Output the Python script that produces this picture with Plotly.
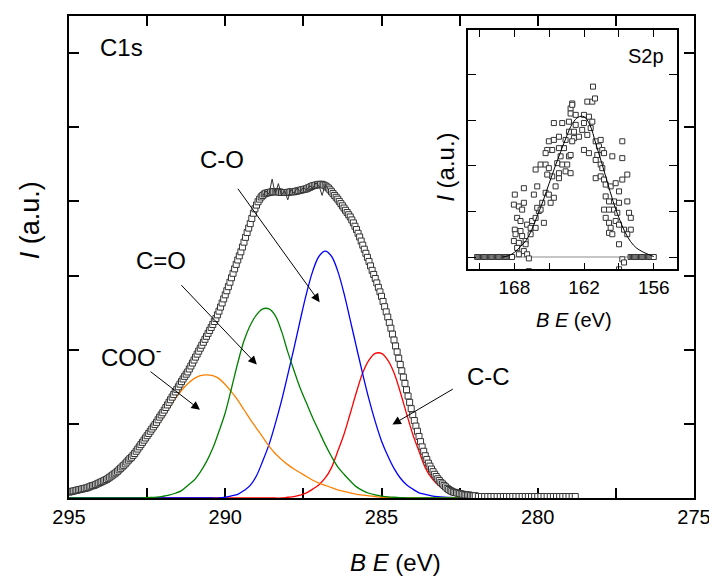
import numpy as np
import plotly.graph_objects as go

# ---------------- C1s main spectrum ----------------
# measured C1s points: 295.00 ... 282.00 eV every 0.05 eV, then 281.9 ... 278.8 eV every 0.1 eV
c1s_ev = list(np.round(np.arange(29500, 28199, -5) / 100.0, 2)) + \
         list(np.round(np.arange(2819, 2787, -1) / 10.0, 1))
c1s_I = [
    0.08, 0.085, 0.09, 0.095, 0.10, 0.105, 0.11, 0.115, 0.12, 0.125,
    0.13, 0.135, 0.14, 0.15, 0.16, 0.165, 0.17, 0.18, 0.19, 0.20,
    0.21, 0.22, 0.23, 0.24, 0.25, 0.265, 0.28, 0.295, 0.31, 0.325,
    0.34, 0.36, 0.38, 0.40, 0.42, 0.44, 0.46, 0.485, 0.51, 0.53,
    0.55, 0.575, 0.60, 0.63, 0.66, 0.69, 0.72, 0.75, 0.78, 0.81,
    0.84, 0.87, 0.90, 0.93, 0.96, 0.99, 1.02, 1.055, 1.09, 1.12,
    1.15, 1.185, 1.22, 1.255, 1.29, 1.325, 1.36, 1.395, 1.43, 1.465,
    1.50, 1.535, 1.57, 1.605, 1.64, 1.67, 1.70, 1.74, 1.78, 1.82,
    1.86, 1.90, 1.94, 1.98, 2.02, 2.06, 2.10, 2.14, 2.18, 2.22,
    2.26, 2.30, 2.34, 2.38, 2.42, 2.47, 2.52, 2.575, 2.63, 2.685,
    2.74, 2.795, 2.85, 2.91, 2.97, 3.03, 3.09, 3.15, 3.21, 3.265,
    3.32, 3.385, 3.45, 3.515, 3.58, 3.64, 3.70, 3.77, 3.84, 3.90,
    3.95, 3.995, 4.03, 4.06, 4.08, 4.10, 4.11, 4.115, 4.12, 4.125,
    4.13, 4.13, 4.13, 4.13, 4.13, 4.125, 4.12, 4.12, 4.12, 4.12,
    4.12, 4.125, 4.13, 4.13, 4.13, 4.135, 4.14, 4.145, 4.15, 4.155,
    4.16, 4.165, 4.17, 4.18, 4.19, 4.20, 4.21, 4.215, 4.22, 4.225,
    4.23, 4.23, 4.23, 4.22, 4.21, 4.195, 4.18, 4.155, 4.13, 4.105,
    4.08, 4.055, 4.03, 4.00, 3.97, 3.94, 3.91, 3.88, 3.85, 3.82,
    3.79, 3.75, 3.71, 3.665, 3.62, 3.57, 3.52, 3.465, 3.41, 3.355,
    3.30, 3.245, 3.19, 3.13, 3.07, 3.015, 2.96, 2.90, 2.84, 2.78,
    2.72, 2.65, 2.58, 2.51, 2.44, 2.365, 2.29, 2.21, 2.13, 2.05,
    1.97, 1.885, 1.80, 1.715, 1.63, 1.545, 1.46, 1.375, 1.29, 1.205,
    1.12, 1.045, 0.97, 0.90, 0.83, 0.76, 0.69, 0.63, 0.57, 0.52,
    0.47, 0.43, 0.39, 0.355, 0.32, 0.29, 0.26, 0.235, 0.21, 0.19,
    0.17, 0.15, 0.13, 0.115, 0.10, 0.09, 0.08, 0.075, 0.07, 0.065,
    0.06, 0.055, 0.05, 0.045, 0.04, 0.04, 0.04, 0.035, 0.03, 0.03,
    0.03,
    0.02, 0.02, 0.02, 0.02, 0.02, 0.02, 0.02, 0.02, 0.02, 0.02,
    0.02, 0.02, 0.02, 0.02, 0.02, 0.02, 0.02, 0.02, 0.02, 0.02,
    0.02, 0.02, 0.02, 0.02, 0.02, 0.02, 0.02, 0.02, 0.02, 0.02,
    0.02, 0.02,
]

# noisy raw trace on top of the plateau
raw_ev = [288.8, 288.7, 288.6, 288.5, 288.4, 288.3, 288.2, 288.1, 288.0, 287.9, 287.8,
          287.7, 287.6, 287.5, 287.4, 287.3, 287.2, 287.1, 287.0, 286.9, 286.8, 286.7]
raw_I = [4.08, 4.14, 4.10, 4.30, 4.10, 4.24, 4.08, 4.15, 4.02, 4.16, 4.11,
         4.18, 4.13, 4.19, 4.15, 4.21, 4.18, 4.25, 4.21, 4.08, 4.23, 4.16]

# fitted component grid (295.0 ... 282.0 eV)
comp_ev = np.round(np.arange(2950, 2819, -2) / 10.0, 1)
coo_I = [
    0.07, 0.09, 0.11, 0.13, 0.16, 0.20, 0.24, 0.29, 0.36, 0.43,
    0.51, 0.60, 0.71, 0.83, 0.95, 1.08, 1.21, 1.34, 1.45, 1.54,
    1.61, 1.65, 1.66,
    1.65, 1.61, 1.53, 1.43, 1.32, 1.19, 1.06, 0.94, 0.82, 0.70,
    0.60, 0.52, 0.45, 0.39, 0.34, 0.29, 0.24, 0.20, 0.17, 0.14,
    0.11, 0.09, 0.07, 0.05, 0.04, 0.03, 0.02, 0.01, 0.01,
    0, 0, 0, 0, 0, 0, 0, 0, 0, 0, 0, 0, 0, 0,
]
co_double_I = [
    0, 0, 0, 0, 0, 0, 0, 0, 0, 0, 0, 0,
    0.004, 0.008, 0.013, 0.023, 0.038, 0.064, 0.10, 0.17, 0.24, 0.35,
    0.49, 0.67, 0.90, 1.15, 1.48, 1.82, 2.12, 2.33, 2.47, 2.55,
    2.55, 2.46, 2.25, 1.97, 1.72, 1.48, 1.28, 1.08, 0.90, 0.72,
    0.56, 0.42, 0.32, 0.23, 0.15, 0.10, 0.064, 0.041, 0.026, 0.015,
    0.01, 0.006, 0.003,
    0, 0, 0, 0, 0, 0, 0, 0, 0, 0, 0,
]
co_single_I = [
    0, 0, 0, 0, 0, 0, 0, 0, 0, 0, 0, 0, 0, 0, 0, 0, 0, 0, 0, 0, 0, 0, 0, 0, 0,
    0.01, 0.03, 0.05, 0.10, 0.17, 0.30, 0.50, 0.72, 1.00, 1.31,
    1.66, 2.02, 2.40, 2.76, 3.06, 3.26, 3.33, 3.26, 3.06, 2.76,
    2.40, 2.03, 1.67, 1.33, 1.03, 0.77, 0.57, 0.40, 0.27, 0.18,
    0.12, 0.07, 0.05, 0.03, 0.017, 0.01, 0.007, 0.004,
    0, 0, 0,
]
cc_I = [
    0, 0, 0, 0, 0, 0, 0, 0, 0, 0, 0, 0, 0, 0, 0, 0, 0, 0,
    0, 0, 0, 0, 0, 0, 0, 0, 0, 0, 0, 0, 0, 0, 0, 0, 0,
    0.01, 0.02, 0.04, 0.07, 0.12, 0.18, 0.27, 0.41, 0.63, 0.86,
    1.14, 1.43, 1.69, 1.86, 1.95, 1.95, 1.86, 1.69, 1.43, 1.14,
    0.86, 0.63, 0.41, 0.27, 0.18, 0.12, 0.07, 0.04, 0.02, 0.01,
    0.005,
]

main_xticks = [295, 292.5, 290, 287.5, 285, 282.5, 280, 277.5, 275]
main_xticktext = ["295", " ", "290", " ", "285", " ", "280", " ", "275"]

# ---------------- S2p inset ----------------
s2p_ev = [
    167.96, 167.18, 168.04, 167.61, 167.18, 167.33, 167.76, 167.96, 167.47, 167.90,
    167.33, 168.04, 167.61, 167.03, 167.76, 167.18, 166.90, 167.61, 166.75, 167.47,
    166.90, 166.47, 166.60, 166.17, 165.89, 166.03, 165.60, 166.32, 166.03, 165.31,
    165.03, 164.60, 164.45, 164.88, 165.74, 165.46, 166.17, 166.60, 167.03, 166.17,
    165.74, 165.31, 165.03, 164.74, 165.17, 164.16, 164.16, 163.88, 163.59, 163.45,
    163.30, 164.02, 164.16, 164.74, 165.17, 165.31, 165.03, 164.60, 164.16, 163.73,
    164.31, 164.60, 163.88, 163.30, 163.16, 163.02, 163.30, 163.59, 162.87, 166.75,
    161.23, 161.72, 161.29, 161.06, 163.02, 163.16, 162.72, 162.01, 161.58, 162.72,
    162.01, 161.29, 161.43, 162.16, 162.87, 162.44, 163.02, 161.72, 161.00, 160.57,
    163.16, 163.16, 162.01, 161.58, 160.72, 160.43, 160.86, 160.28, 161.00, 160.57,
    160.43, 159.57, 158.71, 158.71, 161.00, 160.57, 160.28, 160.14, 159.71, 159.28,
    158.71, 158.28, 158.99, 160.14, 159.85, 159.42, 158.99, 158.28, 160.28, 159.85,
    159.42, 159.14, 160.14, 159.85, 159.28, 159.71, 158.99, 158.13, 157.98, 159.85,
    159.57, 158.56, 157.98, 158.28, 158.99, 158.71, 158.56, 158.99,
]
s2p_I = [
    1.37, 1.51, 1.15, 1.11, 1.19, 1.04, 0.86, 0.60, 0.57, 0.50,
    0.46, 0.35, 0.31, 0.35, 0.20, 0.13, 0.06, 0.06, -0.03, 0.79,
    0.71, 0.79, 0.64, 0.86, 1.01, 1.08, 1.19, 1.37, 1.55, 1.41,
    1.37, 1.30, 1.55, 1.19, 1.04, 0.75, 0.64, 0.50, 0.28, 1.92,
    2.03, 2.03, 1.95, 1.77, 1.81, 1.73, 1.84, 2.03, 1.88, 2.03,
    2.21, 2.21, 2.39, 2.35, 2.35, 2.28, 2.54, 2.57, 2.64, 2.39,
    2.06, 2.94, 2.94, 2.97, 3.26, 3.37, 2.75, 2.57, 2.61, -0.31,
    3.74, 3.41, 3.41, 3.48, 3.34, 3.15, 3.12, 3.12, 3.08, 2.90,
    2.94, 2.97, 2.83, 2.79, 2.75, 2.64, 2.54, 2.68, 2.54, 2.57,
    2.24, 1.84, 2.35, 2.28, 2.43, 2.35, 2.24, 2.28, 2.13, 2.03,
    1.95, 2.21, 2.54, 2.17, 1.73, 1.77, 1.70, 1.59, 1.55, 1.62,
    1.70, 1.81, 1.44, 1.33, 1.22, 1.22, 1.19, 1.22, 1.04, 1.04,
    1.04, 0.97, 0.86, 0.75, 0.79, 0.64, 0.71, 0.97, 0.86, 0.53,
    0.50, 0.60, 0.60, 0.50, 0.28, -0.05, -0.12, -0.27,
]
# flat (zero) ends of the S2p window
s2p_flat_ev = list(np.round(np.arange(1712, 1681, -1) / 10.0, 1)) + \
              list(np.round(np.arange(1580, 1559, -1) / 10.0, 1))
s2p_flat_I = [0.0] * len(s2p_flat_ev)
s2p_base_ev = [171.2, 156.0]
s2p_base_I = [0.0, 0.0]
s2p_fit_ev = [169.0, 168.5, 168.0, 167.5, 167.0, 166.5, 166.0, 165.5, 165.0, 164.5,
              164.0, 163.5, 163.0, 162.5, 162.0, 161.5, 161.0, 160.5, 160.0, 159.5,
              159.0, 158.5, 158.0, 157.5, 157.0, 156.5, 156.0]
s2p_fit_I = [0.00, 0.03, 0.10, 0.22, 0.36, 0.60, 0.92, 1.25, 1.62, 1.98,
             2.32, 2.65, 2.93, 3.07, 3.08, 2.90, 2.50, 2.08, 1.65, 1.22,
             0.86, 0.56, 0.34, 0.20, 0.12, 0.06, 0.01]
inset_xticks = [171, 168, 165, 162, 159, 156]
inset_xticktext = [" ", "168", " ", "162", " ", "156"]

# ---------------- figure ----------------
# the page body adds an 8 px offset, so the figure is 8 px smaller and the
# margins are expressed so that the plot area lands at screen x 69..695, y 14..498
OFF = 8
W, H = 717 - OFF, 580 - OFF
SX0, SX1, SY0, SY1 = 69, 695, 14, 498       # plot area in screen pixels
L, R = SX0 - OFF, W - (SX1 - OFF)
T, B = SY0 - OFF, H - (SY1 - OFF)
PW, PH = SX1 - SX0, SY1 - SY0
FONT = "Liberation Sans, Arial, sans-serif"


def px(x):
    return (x - SX0) / PW


def py(y):
    return (SY1 - y) / PH


fig = go.Figure()

line_w = 1.3
fig.add_trace(go.Scatter(x=comp_ev, y=cc_I, mode="lines", line=dict(color="#ff0000", width=line_w, shape="spline"),
                         xaxis="x", yaxis="y", showlegend=False))
fig.add_trace(go.Scatter(x=comp_ev, y=co_single_I, mode="lines", line=dict(color="#0000ff", width=line_w, shape="spline"),
                         xaxis="x", yaxis="y", showlegend=False))
fig.add_trace(go.Scatter(x=comp_ev, y=coo_I, mode="lines", line=dict(color="#ff8000", width=line_w, shape="spline"),
                         xaxis="x", yaxis="y", showlegend=False))
fig.add_trace(go.Scatter(x=comp_ev, y=co_double_I, mode="lines", line=dict(color="#008000", width=line_w, shape="spline"),
                         xaxis="x", yaxis="y", showlegend=False))
fig.add_trace(go.Scatter(x=c1s_ev, y=c1s_I, mode="markers",
                         marker=dict(symbol="square", size=6, color="white", line=dict(color="#333333", width=1)),
                         xaxis="x", yaxis="y", showlegend=False))
fig.add_trace(go.Scatter(x=raw_ev, y=raw_I, mode="lines", line=dict(color="#333333", width=1),
                         xaxis="x", yaxis="y", showlegend=False))

# inset traces
fig.add_trace(go.Scatter(x=s2p_base_ev, y=s2p_base_I, mode="lines", line=dict(color="#8c8c8c", width=1),
                         xaxis="x2", yaxis="y2", showlegend=False))
fig.add_trace(go.Scatter(x=s2p_flat_ev, y=s2p_flat_I, mode="markers",
                         marker=dict(symbol="square", size=5, color="white", line=dict(color="#333333", width=1)),
                         xaxis="x2", yaxis="y2", showlegend=False))
fig.add_trace(go.Scatter(x=s2p_ev, y=s2p_I, mode="markers",
                         marker=dict(symbol="square", size=5, color="white", line=dict(color="#333333", width=1)),
                         xaxis="x2", yaxis="y2", showlegend=False))
fig.add_trace(go.Scatter(x=s2p_fit_ev, y=s2p_fit_I, mode="lines", line=dict(color="black", width=1, shape="spline"),
                         xaxis="x2", yaxis="y2", showlegend=False))

axis_common = dict(showgrid=False, zeroline=False, showline=True, linecolor="black",
                   ticks="inside", tickcolor="black", mirror="allticks")

fig.update_layout(
    width=W, height=H,
    margin=dict(l=L, r=R, t=T, b=B, pad=0),
    paper_bgcolor="white", plot_bgcolor="white",
    font=dict(family=FONT, color="black"),
    xaxis=dict(domain=[0, 1], range=[295, 275], tickvals=main_xticks, ticktext=main_xticktext,
               ticklen=10, tickwidth=1.5, linewidth=2, tickfont=dict(size=20, family=FONT),
               layer="below traces", anchor="y", **axis_common),
    yaxis=dict(domain=[0, 1], range=[0, 6.5], tickvals=[0, 1, 2, 3, 4, 5, 6], showticklabels=False,
               ticklen=10, tickwidth=1.5, linewidth=2, layer="below traces", anchor="x", **axis_common),
    xaxis2=dict(domain=[px(468.5), px(678)], range=[172, 154], tickvals=inset_xticks, ticktext=inset_xticktext,
                ticklen=7, tickwidth=1.2, linewidth=1.5, tickfont=dict(size=19, family=FONT),
                anchor="y2", **axis_common),
    yaxis2=dict(domain=[py(268.5), py(28.5)], range=[-0.273, 4.973], tickvals=[0, 1, 2, 3, 4],
                showticklabels=False, ticklen=8, tickwidth=1.2, linewidth=1.5, anchor="x2", **axis_common),
)

# inset white background
fig.add_shape(type="rect", xref="paper", yref="paper", x0=px(468.5), x1=px(678), y0=py(268.5), y1=py(28.5),
              fillcolor="white", line=dict(width=0), layer="below")

ann = []


def label(text, x, y, size=24, angle=0, xanchor="center"):
    ann.append(dict(text=text, x=px(x), y=py(y), xref="paper", yref="paper", showarrow=False,
                    font=dict(size=size, family=FONT, color="black"), textangle=angle,
                    xanchor=xanchor, yanchor="middle"))


label("C1s", 122, 46)
label("C-O", 222, 158)
label("C=O", 161, 260)
label("COO<sup>-</sup>", 99, 355, xanchor="left")
label("C-C", 489, 376)
label("<i>I</i> (a.u.)", 30, 219, size=27, angle=-90)
label("<i>B E</i> (eV)", 396, 563, size=24)
label("<i>I</i> (a.u.)", 446, 166, size=24, angle=-90)
label("<i>B E</i> (eV)", 575, 319, size=20)
label("S2p", 647, 54, size=20)

# arrows: (tail eV, tail I) -> (head eV, head I)
arrows = [
    ((289.63, 4.19), (286.98, 2.64)),
    ((291.45, 2.89), (288.99, 1.80)),
    ((292.44, 1.72), (290.81, 1.19)),
    ((282.67, 1.48), (284.65, 0.99)),
]
for (tx, ty), (hx, hy) in arrows:
    ann.append(dict(x=hx, y=hy, ax=tx, ay=ty, xref="x", yref="y", axref="x", ayref="y",
                    text="", showarrow=True, arrowhead=2, arrowsize=1.7, arrowwidth=1,
                    arrowcolor="black", standoff=0, startstandoff=0))

fig.update_layout(annotations=ann)

fig.write_html("out.html")
